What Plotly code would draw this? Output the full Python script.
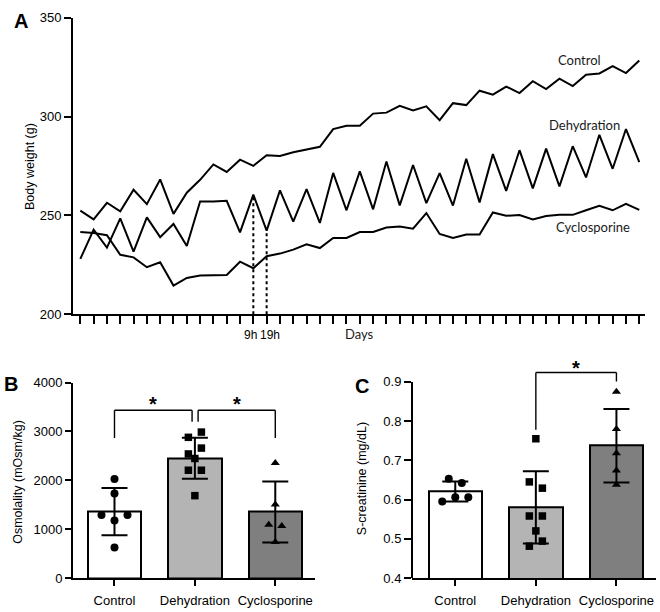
import numpy as np
import plotly.graph_objects as go

# ---------------- Panel A data: body weight (g) per time point ----------------
time_index = list(range(43))
bw_control = [252.4, 248.0, 256.4, 252.1, 263.0, 255.7, 268.2, 250.8, 261.5, 268.0,
              275.8, 272.0, 278.2, 275.1, 280.4, 280.1, 282.0, 283.2, 284.7, 293.7,
              295.4, 295.4, 301.5, 302.0, 305.4, 303.1, 305.2, 298.2, 306.8, 305.8,
              313.1, 311.1, 315.2, 311.9, 317.9, 313.9, 319.2, 315.4, 321.2, 321.8,
              325.5, 322.0, 328.4]
bw_dehydration = [228.0, 242.8, 233.7, 248.5, 231.7, 249.0, 239.0, 245.7, 234.5, 257.1,
                  257.1, 257.4, 241.4, 260.5, 242.3, 262.7, 246.9, 263.3, 246.2, 271.5,
                  252.6, 272.3, 253.1, 277.3, 255.1, 275.5, 256.2, 271.4, 255.0, 278.7,
                  256.6, 281.0, 262.4, 283.0, 263.7, 283.8, 264.7, 285.0, 269.2, 290.8,
                  273.6, 293.7, 277.0]
bw_cyclosporine = [241.6, 241.1, 240.0, 230.1, 228.8, 223.8, 226.3, 214.5, 218.4, 219.6,
                   219.7, 219.9, 226.6, 223.3, 229.4, 230.7, 232.7, 235.4, 233.5, 238.6,
                   238.6, 241.6, 241.6, 243.9, 244.4, 243.3, 251.2, 240.6, 238.6, 240.3,
                   240.3, 251.5, 249.8, 250.2, 248.0, 249.7, 250.3, 250.3, 252.6, 254.9,
                   252.6, 255.9, 252.8]
series_names = ["Control", "Dehydration", "Cyclosporine"]
marked_index = [13, 14]
marked_labels = ["9h", "19h"]
x_title_A = "Days"

# ---------------- Panel B / C data ----------------
groups = ["Control", "Dehydration", "Cyclosporine"]
osm_control = [2027, 1733, 1293, 1180, 1293, 627]
osm_dehydration = [2880, 2987, 2540, 2660, 2447, 2207, 2207, 1687]
osm_cyclosporine = [2353, 1507, 1093, 1067, 740]

crea_control = [0.653, 0.642, 0.595, 0.606, 0.606]
crea_dehydration = [0.755, 0.645, 0.629, 0.558, 0.558, 0.520, 0.481, 0.494]
crea_cyclosporine = [0.875, 0.780, 0.718, 0.674, 0.638]

# ---------------- layout helpers ----------------
W, H = 660, 612
def px_x(p):
    return p / W
def px_y(p):
    return 1 - p / H

AXF = dict(family="Liberation Sans, Arial, sans-serif", size=13, color="black")
LBLF = dict(family="Lato, sans-serif", size=13, color="#1a1a1a")
bar_colors = ["#ffffff", "#b4b4b4", "#7f7f7f"]
symbols = ["circle", "square", "triangle-up"]


def swarm(values, px_per_unit, unit_px=80.4, thr_px=7.0, step_px=13.0):
    vals = np.asarray(values, float)
    order = list(np.argsort(-vals, kind="stable"))
    offs = np.zeros(len(vals))
    i = 0
    while i < len(order):
        top = vals[order[i]]
        grp = [order[i]]
        j = i + 1
        while j < len(order) and (top - vals[order[j]]) * px_per_unit < thr_px:
            grp.append(order[j])
            j += 1
        grp.sort()
        n = len(grp)
        for k, idx in enumerate(grp):
            offs[idx] = (k - (n - 1) / 2) * step_px / unit_px
        i = j
    return offs


fig = go.Figure()

# ---- Panel A lines ----
for ys in (bw_control, bw_dehydration, bw_cyclosporine):
    fig.add_trace(go.Scatter(x=time_index, y=ys, mode="lines",
                             line=dict(color="black", width=2),
                             xaxis="x", yaxis="y", showlegend=False, hoverinfo="skip"))
for i in marked_index:
    fig.add_trace(go.Scatter(x=[time_index[i], time_index[i]], y=[200, bw_dehydration[i]],
                             mode="lines", line=dict(color="black", width=2, dash="dot"),
                             xaxis="x", yaxis="y", showlegend=False, hoverinfo="skip"))

# ---- Panels B and C bars + points ----
def add_panel(datasets, xa, ya, px_per_unit):
    means = [float(np.mean(d)) for d in datasets]
    sds = [float(np.std(d, ddof=1)) for d in datasets]
    fig.add_trace(go.Bar(x=[0, 1, 2], y=means, width=0.663,
                         marker=dict(color=bar_colors, line=dict(color="black", width=2)),
                         error_y=dict(type="data", array=sds, visible=True,
                                      color="black", thickness=2, width=13),
                         xaxis=xa, yaxis=ya, showlegend=False, hoverinfo="skip"))
    for g, d in enumerate(datasets):
        offs = swarm(d, px_per_unit)
        fig.add_trace(go.Scatter(x=[g + o for o in offs], y=d, mode="markers",
                                 marker=dict(symbol=symbols[g], size=8 if g != 1 else 7.5,
                                             color="black"),
                                 xaxis=xa, yaxis=ya, showlegend=False, hoverinfo="skip",
                                 cliponaxis=False))

add_panel([osm_control, osm_dehydration, osm_cyclosporine], "x2", "y2", 200.5 / 4000)
add_panel([crea_control, crea_dehydration, crea_cyclosporine], "x3", "y3", 402.0)

shapes = []
annotations = []

def bracket(xa, ya, xl, xr, top, yl, yr, star_y):
    for (x0, y0, x1, y1) in [(xl, yl, xl, top), (xl, top, xr, top), (xr, top, xr, yr)]:
        shapes.append(dict(type="line", xref=xa, yref=ya, x0=x0, y0=y0, x1=x1, y1=y1,
                           line=dict(color="black", width=1.4)))
    annotations.append(dict(x=(xl + xr) / 2, y=star_y, xref=xa, yref=ya, text="<b>*</b>",
                            showarrow=False, font=dict(family="Liberation Sans, Arial", size=20,
                                                       color="black"),
                            xanchor="center", yanchor="middle"))

bracket("x2", "y2", 0, 0.965, 3433, 2867, 3200, 3560)
bracket("x2", "y2", 1.04, 2, 3433, 3200, 2867, 3560)
bracket("x3", "y3", 1, 2, 0.924, 0.778, 0.901, 0.935)

# manual y axis line for panel C (0.4-0.9 only)
shapes.append(dict(type="line", xref="x3 domain", yref="y3", x0=0, x1=0, y0=0.4, y1=0.9,
                   line=dict(color="black", width=2)))

# ---- Panel A text ----
label_pos = [(37.5, 328.6), (37.9, 295.6), (38.5, 243.9)]
for name, (lx, ly) in zip(series_names, label_pos):
    annotations.append(dict(x=lx, y=ly, xref="x", yref="y", text=name, showarrow=False,
                            font=LBLF, xanchor="center", yanchor="middle"))
for i, lab, sh in zip(marked_index, marked_labels, [-3, 3]):
    annotations.append(dict(x=time_index[i], y=px_y(336), xref="x", yref="paper", text=lab,
                            showarrow=False, font=dict(AXF, size=12), xanchor="center",
                            yanchor="middle", xshift=sh))
annotations.append(dict(x=21, y=px_y(335), xref="x", yref="paper", text=x_title_A,
                        showarrow=False, font=LBLF, xanchor="center", yanchor="middle"))

# axis titles
for txt, xp, yp in [("Body weight (g)", 30, 164), ("Osmolality (mOsm/kg)", 18, 486.7),
                    ("S-creatinine (mg/dL)", 362, 484)]:
    annotations.append(dict(x=px_x(xp), y=px_y(yp), xref="paper", yref="paper", text=txt,
                            textangle=-90, showarrow=False, font=dict(AXF, size=12.5),
                            xanchor="center", yanchor="middle"))
# panel letters
for txt, xp, yp in [("A", 20.5, 14), ("B", 11, 386), ("C", 361.5, 388.5)]:
    annotations.append(dict(x=px_x(xp), y=px_y(yp), xref="paper", yref="paper",
                            text="<b>%s</b>" % txt, showarrow=False,
                            font=dict(family="Liberation Sans, Arial", size=20, color="black"),
                            xanchor="center", yanchor="middle"))

common_axis = dict(showgrid=False, zeroline=False, linecolor="black", linewidth=2,
                   ticks="outside", tickcolor="black", tickwidth=2, tickfont=AXF)

fig.update_layout(
    width=W, height=H, margin=dict(l=0, r=0, t=0, b=0),
    paper_bgcolor="white", plot_bgcolor="rgba(0,0,0,0)",
    xaxis=dict(common_axis, domain=[px_x(73), px_x(645)], range=[-0.55, 42.43],
               tickmode="linear", tick0=0, dtick=1, ticklen=8, showticklabels=False,
               showline=True, anchor="y"),
    yaxis=dict(common_axis, domain=[px_y(315), px_y(11)], range=[200, 350],
               tickvals=[200, 250, 300, 350], ticklen=7, showline=True, anchor="x"),
    xaxis2=dict(common_axis, domain=[px_x(73), px_x(315)], range=[-0.516, 2.494],
                tickvals=[0, 1, 2], ticktext=groups, ticklen=6, showline=True,
                anchor="y2", tickangle=0, ticklabelstandoff=3),
    yaxis2=dict(common_axis, domain=[px_y(585.5), px_y(385)], range=[0, 4000],
                tickvals=[0, 1000, 2000, 3000, 4000], ticklen=6, showline=True, anchor="x2"),
    xaxis3=dict(common_axis, domain=[px_x(412), px_x(656)], range=[-0.537, 2.491],
                tickvals=[0, 1, 2], ticktext=groups, ticklen=6, showline=True,
                anchor="y3", tickangle=0, ticklabelstandoff=3),
    yaxis3=dict(common_axis, domain=[px_y(585.3), px_y(360.2)], range=[0.4, 0.96],
                tickvals=[0.4, 0.5, 0.6, 0.7, 0.8, 0.9], ticktext=["0.4", "0.5", "0.6", "0.7", "0.8", "0.9"],
                ticklen=7, showline=False, anchor="x3"),
    shapes=shapes, annotations=annotations, bargap=0,
)

fig.write_html("out.html", config={"displayModeBar": False},
               post_script="document.body.style.margin='0px';document.body.style.overflow='hidden';")
